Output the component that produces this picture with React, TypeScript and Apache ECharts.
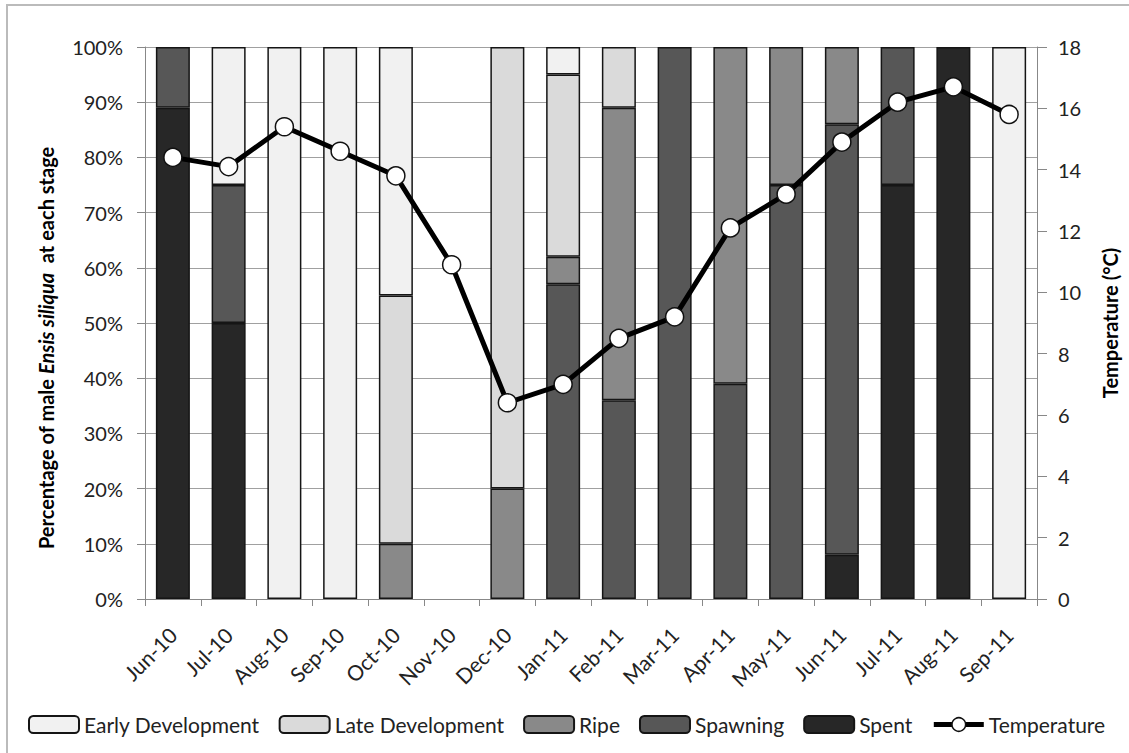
import React, { useEffect, useRef } from "react";
import * as echarts from "echarts";

const categories = ["Jun-10", "Jul-10", "Aug-10", "Sep-10", "Oct-10", "Nov-10", "Dec-10", "Jan-11", "Feb-11", "Mar-11", "Apr-11", "May-11", "Jun-11", "Jul-11", "Aug-11", "Sep-11"];
const earlyDevelopment = [0, 25, 100, 100, 45, 0, 0, 5, 0, 0, 0, 0, 0, 0, 0, 100];
const lateDevelopment = [0, 0, 0, 0, 45, 0, 80, 33, 11, 0, 0, 0, 0, 0, 0, 0];
const ripe = [0, 0, 0, 0, 10, 0, 20, 5, 53, 0, 61, 25, 14, 0, 0, 0];
const spawning = [11, 25, 0, 0, 0, 0, 0, 57, 36, 100, 39, 75, 78, 25, 0, 0];
const spent = [89, 50, 0, 0, 0, 0, 0, 0, 0, 0, 0, 0, 8, 75, 100, 0];
const temperature = [14.4, 14.1, 15.4, 14.6, 13.8, 10.9, 6.4, 7.0, 8.5, 9.2, 12.1, 13.2, 14.9, 16.2, 16.7, 15.8];

const FONT = "Lato, 'DejaVu Sans', sans-serif";

export default function App() {
  const ref = useRef<HTMLDivElement>(null);
  useEffect(() => {
    document.body.style.margin = "0";
    const chart = echarts.init(ref.current!, null, { renderer: "svg" });
    const toData = (arr: number[]) => arr.map((v) => (v === 0 ? "-" : v));
    const barSeries = (name: string, arr: number[], color: string) => ({
      name,
      type: "bar",
      stack: "stage",
      barWidth: 34,
      data: toData(arr),
      itemStyle: { color, borderColor: "#151515", borderWidth: 1.5 },
    });
    chart.setOption({
      animation: false,
      backgroundColor: "#fff",
      textStyle: { fontFamily: FONT },
      grid: { left: 145, right: 92, top: 47, bottom: 154 },
      legend: {
        left: 23,
        top: 709,
        itemWidth: 50,
        itemHeight: 17,
        itemGap: 19,
        textStyle: { fontSize: 21, color: "#222", fontFamily: FONT },
        data: [
          "Early Development",
          "Late Development",
          "Ripe",
          "Spawning",
          "Spent",
          { name: "Temperature", lineStyle: { width: 5, color: "#000" }, itemStyle: { color: "#fff", borderColor: "#111", borderWidth: 1.5 } },
        ],
      },
      xAxis: {
        type: "category",
        data: categories,
        axisLine: { lineStyle: { color: "#888", width: 1 } },
        axisTick: { show: true, length: 7, lineStyle: { color: "#888" } },
        axisLabel: { rotate: 45, fontSize: 21, color: "#222", margin: 32, fontFamily: FONT },
      },
      yAxis: [
        {
          type: "value",
          min: 0,
          max: 100,
          interval: 10,
          axisLine: { show: true, lineStyle: { color: "#888" } },
          axisTick: { show: true, length: 8, lineStyle: { color: "#888" } },
          axisLabel: { formatter: "{value}%", fontSize: 20, color: "#222", margin: 22, fontFamily: FONT },
          splitLine: { show: true, lineStyle: { color: "#a0a0a0", width: 1.2 } },
        },
        {
          type: "value",
          position: "right",
          min: 0,
          max: 18,
          interval: 2,
          axisLine: { show: true, lineStyle: { color: "#888" } },
          axisTick: { show: true, length: 10, lineStyle: { color: "#888" } },
          axisLabel: { fontSize: 20, color: "#222", margin: 21, fontFamily: FONT },
          splitLine: { show: false },
        },
      ],
      series: [
        barSeries("Spent", spent, "#272727"),
        barSeries("Spawning", spawning, "#575757"),
        barSeries("Ripe", ripe, "#898989"),
        barSeries("Late Development", lateDevelopment, "#dadada"),
        barSeries("Early Development", earlyDevelopment, "#f1f1f1"),
        {
          name: "Temperature",
          type: "line",
          yAxisIndex: 1,
          data: temperature,
          symbol: "circle",
          symbolSize: 18,
          lineStyle: { color: "#000", width: 5 },
          itemStyle: { color: "#fff", borderColor: "#111", borderWidth: 1.5 },
          z: 5,
        },
      ],
      graphic: [
        {
          type: "rect",
          shape: { x: 7, y: 5, width: 1200, height: 800 },
          style: { fill: "none", stroke: "#bbb", lineWidth: 2 },
          silent: true,
        },
        {
          type: "text",
          x: 46,
          y: 348,
          rotation: Math.PI / 2,
          style: {
            text: "{n|Percentage of male }{i|Ensis siliqua}{n|  at each stage}",
            align: "center",
            verticalAlign: "middle",
            rich: {
              n: { fontSize: 20, fontFamily: FONT, fill: "#000", fontWeight: "bold" },
              i: { fontSize: 20, fontFamily: FONT, fill: "#000", fontStyle: "italic", fontWeight: "bold" },
            },
          },
        },
        {
          type: "text",
          x: 1110,
          y: 323,
          rotation: Math.PI / 2,
          style: {
            text: "Temperature (°C)",
            align: "center",
            verticalAlign: "middle",
            fontSize: 20,
            fontWeight: "bold",
            fontFamily: FONT,
            fill: "#000",
          },
        },
      ],
    });
    return () => chart.dispose();
  }, []);
  return <div ref={ref} style={{ width: 1129, height: 753 }} />;
}
